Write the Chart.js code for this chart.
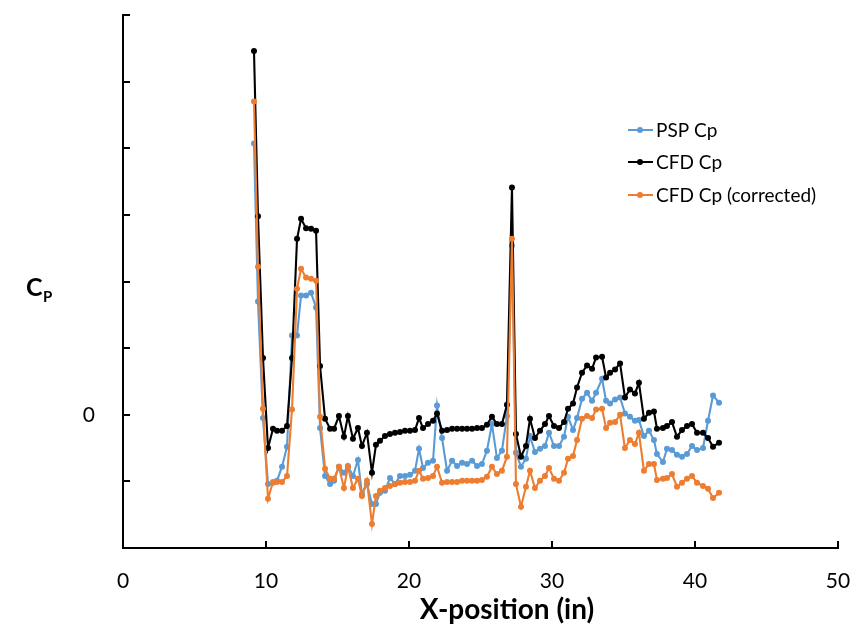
<!DOCTYPE html>
<html>
<head>
<meta charset="utf-8">
<script src="https://cdn.jsdelivr.net/npm/chart.js@4"></script>
<style>
  html, body { margin: 0; padding: 0; background: #fff; }
  canvas { display: block; }
</style>
</head>
<body>
<canvas id="cp-chart" width="857" height="635"></canvas>
<script>
  // x positions (in), shared by all three series
  const xPos = [
    9.16, 9.44, 9.79, 10.14, 10.49, 10.77, 11.12, 11.47, 11.82, 12.17,
    12.45, 12.80, 13.15, 13.50, 13.78, 14.13, 14.48, 14.76, 15.10, 15.45,
    15.73, 16.08, 16.43, 16.71, 17.06, 17.41, 17.69, 17.97, 18.32, 18.67,
    19.02, 19.37, 19.72, 20.07, 20.42, 20.70, 20.98, 21.33, 21.68, 21.96,
    22.31, 22.66, 23.01, 23.36, 23.71, 24.06, 24.41, 24.76, 25.10, 25.45,
    25.80, 26.15, 26.50, 26.85, 27.20, 27.48, 27.83, 28.18, 28.46, 28.81,
    29.16, 29.51, 29.79, 30.14, 30.49, 30.84, 31.12, 31.47, 31.75, 32.10,
    32.45, 32.80, 33.08, 33.50, 33.78, 34.06, 34.41, 34.76, 35.10, 35.45,
    35.80, 36.08, 36.43, 36.78, 37.13, 37.34, 37.76, 38.04, 38.39, 38.74,
    39.09, 39.44, 39.79, 40.14, 40.56, 40.91, 41.26, 41.68
  ];

  const pspCp = [
    0.407, 0.170, -0.005, -0.104, -0.102, -0.099, -0.078, -0.048, 0.119, 0.119,
    0.179, 0.179, 0.183, 0.161, -0.020, -0.092, -0.104, -0.099, -0.078, -0.087,
    -0.077, -0.092, -0.068, -0.119, -0.104, -0.134, -0.134, -0.117, -0.114, -0.095,
    -0.104, -0.092, -0.092, -0.090, -0.084, -0.051, -0.080, -0.072, -0.069, 0.014,
    -0.035, -0.084, -0.069, -0.077, -0.072, -0.074, -0.069, -0.077, -0.074, -0.054,
    -0.014, -0.065, -0.054, -0.002, 0.254, -0.057, -0.078, -0.066, -0.032, -0.056,
    -0.051, -0.047, -0.027, -0.047, -0.047, -0.033, -0.003, -0.023, -0.005, 0.024,
    0.033, 0.021, 0.033, 0.054, 0.021, 0.017, 0.023, 0.026, 0.002, -0.003,
    -0.009, -0.008, -0.032, -0.024, -0.038, -0.059, -0.071, -0.051, -0.053, -0.060,
    -0.063, -0.059, -0.047, -0.053, -0.050, -0.009, 0.029, 0.018
  ];

  const cfdCp = [
    0.546, 0.298, 0.085, -0.050, -0.021, -0.024, -0.024, -0.017, 0.085, 0.264,
    0.294, 0.280, 0.279, 0.276, 0.073, -0.006, -0.021, -0.021, -0.002, -0.033,
    -0.002, -0.036, -0.020, -0.047, -0.027, -0.087, -0.045, -0.039, -0.032, -0.029,
    -0.027, -0.026, -0.024, -0.024, -0.023, -0.005, -0.020, -0.014, -0.009, 0.002,
    -0.024, -0.023, -0.021, -0.021, -0.021, -0.021, -0.021, -0.020, -0.020, -0.015,
    -0.003, -0.014, -0.014, 0.015, 0.341, -0.029, -0.063, -0.047, -0.006, -0.035,
    -0.024, -0.014, -0.002, -0.017, -0.020, -0.011, 0.009, 0.017, 0.041, 0.063,
    0.074, 0.069, 0.086, 0.087, 0.056, 0.063, 0.068, 0.077, 0.026, 0.038,
    0.032, 0.048, -0.006, 0.003, 0.005, -0.021, -0.020, -0.017, -0.011, -0.033,
    -0.023, -0.017, -0.014, -0.027, -0.027, -0.035, -0.048, -0.042
  ];

  const cfdCpCorrected = [
    0.470, 0.222, 0.009, -0.126, -0.101, -0.101, -0.101, -0.092, 0.008, 0.189,
    0.219, 0.206, 0.204, 0.201, -0.003, -0.081, -0.096, -0.096, -0.078, -0.110,
    -0.078, -0.110, -0.096, -0.122, -0.099, -0.164, -0.122, -0.114, -0.110, -0.107,
    -0.104, -0.102, -0.101, -0.101, -0.099, -0.084, -0.096, -0.095, -0.092, -0.078,
    -0.102, -0.101, -0.101, -0.101, -0.099, -0.099, -0.099, -0.099, -0.098, -0.093,
    -0.078, -0.089, -0.084, -0.063, 0.264, -0.104, -0.138, -0.108, -0.084, -0.110,
    -0.099, -0.092, -0.080, -0.096, -0.099, -0.087, -0.066, -0.062, -0.038, -0.006,
    -0.002, -0.005, 0.008, 0.009, -0.020, -0.012, -0.011, 0.000, -0.050, -0.038,
    -0.044, -0.027, -0.084, -0.074, -0.074, -0.098, -0.096, -0.095, -0.089, -0.108,
    -0.102, -0.096, -0.092, -0.102, -0.107, -0.111, -0.125, -0.117
  ];

  const seriesNames = ["PSP Cp", "CFD Cp", "CFD Cp (corrected)"];
  const seriesColors = ["#5b9bd5", "#000000", "#ed7d31"];
  const xTicks = [0, 10, 20, 30, 40, 50];
  const yTicks = [-0.2, -0.1, 0, 0.1, 0.2, 0.3, 0.4, 0.5, 0.6];

  const FONT = "Lato, 'Open Sans', sans-serif";

  function toPoints(ys) {
    return ys.map((y, i) => ({ x: xPos[i], y }));
  }

  function makeSet(idx, ys, order) {
    return {
      label: seriesNames[idx],
      data: toPoints(ys),
      borderColor: seriesColors[idx],
      backgroundColor: seriesColors[idx],
      borderWidth: 2.1,
      pointRadius: 3,
      pointBorderWidth: 0,
      pointHoverRadius: 3,
      tension: 0,
      order,
    };
  }

  // inward tick marks, custom legend and the Cp label
  const decorations = {
    id: "decorations",
    afterDraw(chart) {
      const { ctx, scales: { x, y } } = chart;
      const left = x.left, bottom = y.bottom;
      ctx.save();
      ctx.strokeStyle = "#000";
      ctx.lineWidth = 2;
      ctx.beginPath();
      xTicks.forEach((v) => {
        const px = Math.round(x.getPixelForValue(v));
        ctx.moveTo(px, bottom);
        ctx.lineTo(px, bottom - 7);
      });
      yTicks.forEach((v) => {
        const py = Math.round(y.getPixelForValue(v));
        ctx.moveTo(left, py);
        ctx.lineTo(left + 7, py);
      });
      ctx.stroke();

      // legend
      const rows = [130, 162, 195];
      ctx.font = `19px ${FONT}`;
      ctx.textBaseline = "middle";
      ctx.textAlign = "left";
      seriesNames.forEach((name, i) => {
        const ly = rows[i];
        ctx.strokeStyle = seriesColors[i];
        ctx.fillStyle = seriesColors[i];
        ctx.lineWidth = 2;
        ctx.beginPath();
        ctx.moveTo(628, ly);
        ctx.lineTo(653, ly);
        ctx.stroke();
        ctx.beginPath();
        ctx.arc(640, ly, 3, 0, Math.PI * 2);
        ctx.fill();
        ctx.fillStyle = "#000";
        ctx.fillText(name, 656, ly + 1);
      });

      // y title: C with subscript P
      ctx.fillStyle = "#000";
      ctx.font = `bold 25px ${FONT}`;
      ctx.textBaseline = "alphabetic";
      ctx.fillText("C", 26, 296);
      ctx.font = `bold 15px ${FONT}`;
      ctx.fillText("P", 43, 302);

      // x title
      ctx.font = `bold 28px ${FONT}`;
      ctx.textAlign = "center";
      ctx.textBaseline = "middle";
      ctx.fillText("X-position (in)", 507, 610);
      ctx.restore();
    },
  };

  new Chart(document.getElementById("cp-chart"), {
    type: "line",
    data: {
      datasets: [
        makeSet(0, pspCp, 2),
        makeSet(1, cfdCp, 1),
        makeSet(2, cfdCpCorrected, 0),
      ],
    },
    options: {
      responsive: false,
      animation: false,
      layout: { padding: { top: 15, right: 19, left: 0, bottom: 0 } },
      plugins: { legend: { display: false }, tooltip: { enabled: false } },
      scales: {
        x: {
          type: "linear",
          min: 0,
          max: 50,
          afterBuildTicks: (s) => { s.ticks = xTicks.map((v) => ({ value: v })); },
          afterFit: (s) => { s.height = 87; s.paddingLeft = 0; s.paddingRight = 0; },
          grid: { display: false },
          border: { display: true, color: "#000", width: 2 },
          ticks: { color: "#000", font: { family: FONT, size: 21 }, padding: 13 },
        },
        y: {
          type: "linear",
          min: -0.2,
          max: 0.6,
          afterBuildTicks: (s) => { s.ticks = yTicks.map((v) => ({ value: v })); },
          afterFit: (s) => { s.width = 123; s.paddingTop = 0; s.paddingBottom = 0; },
          grid: { display: false },
          border: { display: true, color: "#000", width: 2 },
          ticks: {
            color: "#000",
            font: { family: FONT, size: 21 },
            padding: 20,
            callback: (v) => (Math.abs(v) < 1e-9 ? "0" : ""),
          },
        },
      },
    },
    plugins: [decorations],
  });
</script>
</body>
</html>
